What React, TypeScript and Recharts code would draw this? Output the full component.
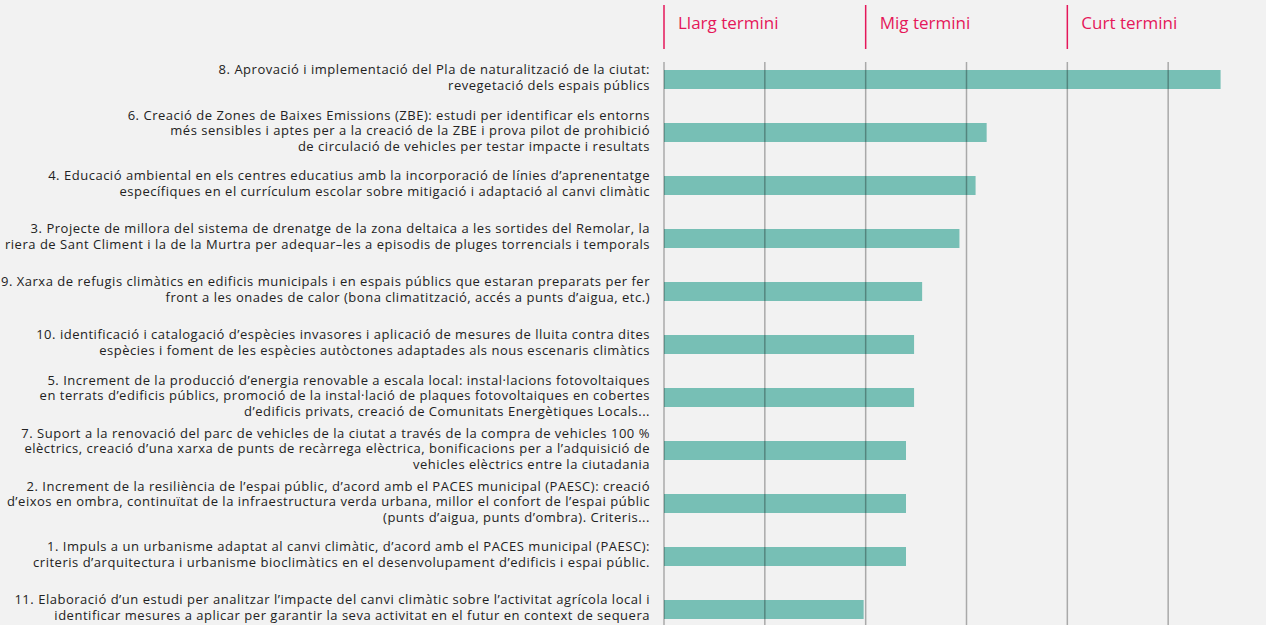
import React from "react";
import { BarChart, Bar, XAxis, YAxis, CartesianGrid } from "recharts";

const labels: string[] = [
  "8. Aprovació i implementació del Pla de naturalització de la ciutat:\nrevegetació dels espais públics",
  "6. Creació de Zones de Baixes Emissions (ZBE): estudi per identificar els entorns\nmés sensibles i aptes per a la creació de la ZBE i prova pilot de prohibició\nde circulació de vehicles per testar impacte i resultats",
  "4. Educació ambiental en els centres educatius amb la incorporació de línies d’aprenentatge\nespecífiques en el currículum escolar sobre mitigació i adaptació al canvi climàtic",
  "3. Projecte de millora del sistema de drenatge de la zona deltaica a les sortides del Remolar, la\nriera de Sant Climent i la de la Murtra per adequar–les a episodis de pluges torrencials i temporals",
  "9. Xarxa de refugis climàtics en edificis municipals i en espais públics que estaran preparats per fer\nfront a les onades de calor (bona climatització, accés a punts d’aigua, etc.)",
  "10. identificació i catalogació d’espècies invasores i aplicació de mesures de lluita contra dites\nespècies i foment de les espècies autòctones adaptades als nous escenaris climàtics",
  "5. Increment de la producció d’energia renovable a escala local: instal·lacions fotovoltaiques\nen terrats d’edificis públics, promoció de la instal·lació de plaques fotovoltaiques en cobertes\nd’edificis privats, creació de Comunitats Energètiques Locals...",
  "7. Suport a la renovació del parc de vehicles de la ciutat a través de la compra de vehicles 100 %\nelèctrics, creació d’una xarxa de punts de recàrrega elèctrica, bonificacions per a l’adquisició de\nvehicles elèctrics entre la ciutadania",
  "2. Increment de la resiliència de l’espai públic, d’acord amb el PACES municipal (PAESC): creació\nd’eixos en ombra, continuïtat de la infraestructura verda urbana, millor el confort de l’espai públic\n(punts d’aigua, punts d’ombra). Criteris...",
  "1. Impuls a un urbanisme adaptat al canvi climàtic, d’acord amb el PACES municipal (PAESC):\ncriteris d’arquitectura i urbanisme bioclimàtics en el desenvolupament d’edificis i espai públic.",
  "11. Elaboració d’un estudi per analitzar l’impacte del canvi climàtic sobre l’activitat agrícola local i\nidentificar mesures a aplicar per garantir la seva activitat en el futur en context de sequera",
];

const values: number[] = [2.76, 1.6, 1.545, 1.465, 1.28, 1.24, 1.24, 1.2, 1.2, 1.2, 0.99];

const axisTicks: number[] = [0, 0.5, 1, 1.5, 2, 2.5];
const headerValues: number[] = [0, 1, 2];
const headerLabels: string[] = ["Llarg termini", "Mig termini", "Curt termini"];

const data = labels.map((label, i) => ({ label, value: values[i] }));

const FONT = "'Open Sans', 'Noto Sans', sans-serif";
const PINK = "#e5175a";

const renderLabelTick = (props: any) => {
  const { x, y, payload } = props;
  const lines: string[] = String(payload.value).split("\n");
  const lh = 15.5;
  const start = y - ((lines.length - 1) * lh) / 2 - 2;
  return (
    <g>
      {lines.map((ln, i) => (
        <text
          key={i}
          x={x - 6}
          y={start + i * lh}
          dy="0.35em"
          textAnchor="end"
          fill="#222"
          fontSize={13}
          letterSpacing={0.52}
          fontFamily={FONT}
        >
          {ln}
        </text>
      ))}
    </g>
  );
};

const renderHeaderTick = (props: any) => {
  const { x, payload } = props;
  const idx = headerValues.indexOf(payload.value);
  if (idx < 0) return <g />;
  return (
    <g>
      <line x1={x} x2={x} y1={5} y2={49} stroke={PINK} strokeWidth={1.5} />
      <text x={x + 14} y={29} fill={PINK} fontSize={17} fontFamily={FONT}>
        {headerLabels[idx]}
      </text>
    </g>
  );
};

export default function App() {
  return (
    <div
      style={{
        position: "fixed",
        left: 0,
        top: 0,
        width: 1266,
        height: 625,
        overflow: "hidden",
        background: "#f2f2f2",
      }}
    >
      <BarChart
        width={1270}
        height={636}
        data={data}
        layout="vertical"
        margin={{ top: 0, right: 1, bottom: 0, left: 0 }}
        barSize={19}
        barCategoryGap={0}
      >
        <XAxis
          type="number"
          orientation="top"
          domain={[0, 3]}
          ticks={axisTicks}
          height={53}
          axisLine={false}
          tickLine={false}
          tick={renderHeaderTick}
          interval={0}
        />
        <YAxis
          type="category"
          dataKey="label"
          width={664}
          axisLine={false}
          tickLine={false}
          tick={renderLabelTick}
          interval={0}
        />
        <Bar dataKey="value" fill="#77bfb5" isAnimationActive={false} />
        <CartesianGrid
          horizontal={false}
          vertical={true}
          y={62}
          height={600}
          stroke="#000"
          strokeOpacity={0.3}
          strokeWidth={1.5}
          {...({ zIndex: 500 } as any)}
        />
      </BarChart>
    </div>
  );
}
